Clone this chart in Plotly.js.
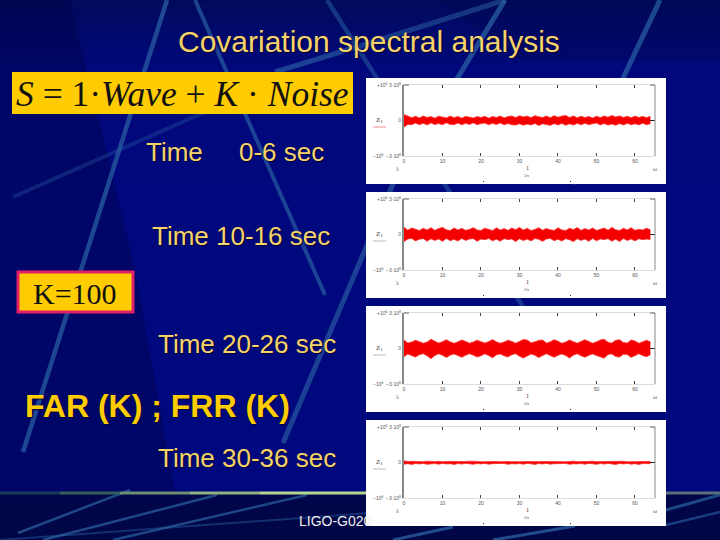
<!DOCTYPE html>
<html><head><meta charset="utf-8">
<script src="https://cdn.plot.ly/plotly-3.0.1.min.js"></script>
<style>
html,body{margin:0;padding:0;width:720px;height:540px;overflow:hidden;
background:
 linear-gradient(180deg,rgba(0,0,40,0) 0,rgba(0,0,40,0) 492px,rgba(0,5,55,.75) 494px,rgba(0,5,60,.75) 540px),
 linear-gradient(180deg,#000a5c 0,#00087c 70px,#00087e 500px,#000a60 540px);}
#c{width:720px;height:540px}
</style></head><body><div id="c"></div>
<script>
const timeSec=[0,1,2,3,4,5,6,7,8,9,10,11,12,13,14,15,16,17,18,19,20,21,22,23,24,25,26,27,28,29,30,31,32,33,34,35,36,37,38,39,40,41,42,43,44,45,46,47,48,49,50,51,52,53,54,55,56,57,58,59,60,61,62,63,64];
const xTicks=[0,10,20,30,40,50,60];
const yTicks=[-3,0,3];
const yTickText=["−3·10<sup>8</sup>","0","3·10<sup>8</sup>"];

const upper1=[.5,.34,.24,.36,.22,.38,.26,.33,.2,.36,.28,.22,.37,.24,.34,.2,.35,.27,.21,.33,.25,.36,.2,.34,.26,.37,.22,.33,.38,.25,.4,.3,.37,.24,.41,.32,.25,.38,.24,.4,.28,.37,.42,.26,.38,.23,.36,.25,.34,.21,.36,.25,.38,.28,.42,.3,.39,.26,.36,.23,.37,.25,.35,.24,.36];
const lower1=[-.55,-.33,-.36,-.22,-.35,-.24,-.37,-.21,-.34,-.26,-.36,-.2,-.33,-.35,-.22,-.36,-.24,-.33,-.2,-.35,-.26,-.22,-.36,-.24,-.34,-.21,-.36,-.26,-.35,-.39,-.27,-.4,-.3,-.38,-.25,-.42,-.28,-.37,-.41,-.26,-.38,-.25,-.4,-.28,-.39,-.24,-.36,-.23,-.35,-.27,-.22,-.37,-.25,-.39,-.3,-.41,-.26,-.38,-.24,-.36,-.27,-.37,-.23,-.35,-.28];

const upper2=[.62,.36,.55,.42,.34,.52,.38,.58,.35,.5,.6,.4,.33,.55,.39,.52,.36,.43,.58,.38,.34,.53,.4,.33,.56,.37,.5,.35,.55,.41,.6,.38,.52,.33,.43,.57,.36,.51,.4,.34,.56,.39,.33,.53,.41,.59,.35,.5,.38,.55,.34,.41,.54,.36,.6,.4,.34,.52,.39,.56,.35,.44,.38,.53,.4];
const lower2=[-.6,-.38,-.33,-.54,-.4,-.35,-.56,-.36,-.5,-.38,-.58,-.34,-.52,-.41,-.55,-.33,-.5,-.38,-.35,-.57,-.39,-.44,-.34,-.53,-.4,-.56,-.35,-.43,-.38,-.6,-.36,-.51,-.39,-.54,-.34,-.41,-.58,-.38,-.33,-.52,-.4,-.55,-.35,-.44,-.6,-.36,-.5,-.39,-.57,-.34,-.53,-.38,-.43,-.35,-.56,-.4,-.59,-.34,-.5,-.38,-.54,-.36,-.44,-.39,-.42];

const upper3=[.72,.46,.55,.7,.58,.44,.54,.78,.62,.46,.58,.74,.56,.44,.56,.72,.6,.45,.55,.7,.58,.47,.58,.76,.56,.44,.54,.7,.6,.45,.6,.76,.72,.48,.56,.68,.72,.46,.56,.74,.62,.44,.55,.72,.58,.45,.6,.74,.6,.44,.56,.72,.78,.52,.46,.7,.74,.5,.46,.72,.64,.44,.56,.7,.56];
const lower3=[-.7,-.46,-.6,-.72,-.52,-.44,-.62,-.86,-.6,-.45,-.58,-.76,-.56,-.46,-.6,-.74,-.58,-.44,-.56,-.72,-.62,-.45,-.6,-.78,-.54,-.46,-.62,-.72,-.52,-.44,-.66,-.8,-.64,-.46,-.58,-.76,-.6,-.44,-.6,-.74,-.58,-.46,-.6,-.8,-.56,-.44,-.62,-.74,-.58,-.46,-.6,-.74,-.82,-.5,-.46,-.68,-.72,-.48,-.5,-.76,-.6,-.44,-.6,-.7,-.52];

const upper4=[.14,.08,.1,.07,.09,.06,.11,.08,.07,.1,.06,.09,.08,.07,.1,.06,.08,.11,.07,.09,.06,.08,.1,.07,.09,.06,.1,.08,.07,.09,.11,.07,.08,.06,.1,.07,.09,.08,.06,.1,.07,.09,.06,.08,.11,.07,.09,.06,.08,.1,.07,.08,.06,.09,.11,.07,.08,.1,.06,.09,.07,.08,.1,.07,.09];
const lower4=[-.14,-.1,-.16,-.09,-.12,-.08,-.15,-.1,-.09,-.14,-.08,-.12,-.1,-.16,-.09,-.13,-.08,-.11,-.15,-.09,-.12,-.08,-.14,-.1,-.09,-.13,-.08,-.15,-.1,-.12,-.09,-.14,-.08,-.11,-.16,-.09,-.12,-.08,-.14,-.1,-.09,-.13,-.08,-.15,-.1,-.12,-.09,-.14,-.08,-.11,-.15,-.09,-.13,-.08,-.12,-.16,-.09,-.12,-.08,-.14,-.1,-.16,-.09,-.12,-.1];

const uppers=[upper1,upper2,upper3,upper4];
const lowers=[lower1,lower2,lower3,lower4];
const panelTop=[78,192,306,420];

const W=720,H=540;
const px=x=>x/W, py=y=>1-y/H;
const SANS='"Liberation Sans",Arial,sans-serif', SERIF='"Liberation Serif","Times New Roman",serif';
const GOLD='#f6d36a', SHADOW='1px 1px 1px #00003a';

const traces=[];const layout={width:W,height:H,margin:{l:0,r:0,t:0,b:0},autosize:false,showlegend:false,
  paper_bgcolor:'rgba(0,0,0,0)',plot_bgcolor:'rgba(0,0,0,0)',shapes:[],annotations:[]};

function seg(x0,y0,x1,y1,color,width,op){layout.shapes.push({type:'line',layer:'below',xref:'paper',yref:'paper',
  x0:px(x0),y0:py(y0),x1:px(x1),y1:py(y1),line:{color:color,width:width},opacity:op==null?1:op});}
function poly(pts,fill,op){layout.shapes.push({type:'path',layer:'below',xref:'paper',yref:'paper',
  path:'M'+pts.map(p=>px(p[0])+','+py(p[1])).join('L')+'Z',fillcolor:fill,opacity:op,line:{width:0}});}
function box(x0,y0,x1,y1,fill,lc,lw){layout.shapes.push({type:'rect',layer:'below',xref:'paper',yref:'paper',
  x0:px(x0),y0:py(y0),x1:px(x1),y1:py(y1),fillcolor:fill,line:{color:lc||fill,width:lw||0}});}
function note(text,x,y,size,color,family,anchor,extra){layout.annotations.push(Object.assign({text:text,xref:'paper',yref:'paper',
  x:px(x),y:py(y),xanchor:anchor||'left',yanchor:'middle',showarrow:false,borderpad:0,
  font:{size:size,color:color,family:family}},extra||{}));}
function slideText(text,x,y,size,color){note(text,x,y,size,color,SANS,'left',{font:{size:size,color:color,family:SANS,shadow:SHADOW}});}

/* slide backdrop */
poly([[0,0],[70,0],[135,270],[175,492],[0,492]],'#00043f',.34);
poly([[440,0],[720,0],[720,60],[520,60]],'#00043f',.18);
const B='#2c63a4';
seg(167,0,23,452,B,4.5,.7);
seg(195,0,325,295,B,4,.65);
seg(13,197,205,112,B,4,.32);
seg(275,72,360,46,B,5,.62);
seg(360,46,505,0,B,5,.5);
seg(327,0,525,310,B,4.5,.5);
seg(505,0,393,184,B,5,.72);
seg(393,184,283,443,B,5,.62);
seg(660,0,573,184,B,5,.7);
seg(18,533,130,490,B,2.5,.7);
seg(43,540,217,495,B,2.5,.7);
seg(113,540,307,495,B,2.5,.7);
seg(0,540,370,513,B,2,.45);
seg(393,540,453,527,B,3,.75);
seg(493,540,575,526,B,3,.75);
seg(666,510,720,495,B,3,.7);
seg(666,525,720,512,B,2.5,.6);
/* footer rule */
seg(0,493,60,493,'#143a5a',3);
seg(60,493,120,493,'#35605a',3);
seg(120,493,190,493,'#6c8f70',3);
seg(190,493,260,493,'#8fb280',3);
seg(260,493,366,493,'#b3d78f',3);
seg(666,493,720,493,'#59707a',3);

/* formula and K boxes */
box(12,72,353,114,'#ffcc00');
box(18,272,133,312,'#ffcc00','#e0206a',3);

/* panels */
panelTop.forEach((top,i)=>{
  const n=i===0?'':String(i+1);
  box(366,top,666,top+106,'#ffffff');
  const xa='xaxis'+n, ya='yaxis'+n, xr='x'+n, yr='y'+n;
  layout[xa]={domain:[px(404),px(655)],range:[0,65.2],anchor:yr,tickvals:xTicks,ticks:'inside',ticklen:3,tickwidth:1,tickcolor:'#444',
    showgrid:false,zeroline:false,showline:true,linecolor:'#dddddd',linewidth:1,mirror:'allticks',
    tickfont:{size:5,color:'#555',family:SANS},fixedrange:true};
  layout[ya]={domain:[py(top+78),py(top+7)],range:[-3,3],anchor:xr,tickvals:yTicks,ticktext:yTickText,ticks:'',showgrid:false,
    zeroline:true,zerolinecolor:'#222',zerolinewidth:1,showline:true,linecolor:'#888',linewidth:2,
    tickfont:{size:5,color:'#555',family:SANS},fixedrange:true};
  traces.push({x:timeSec,y:lowers[i],xaxis:xr,yaxis:yr,mode:'lines',line:{color:'#ff3030',width:.8},hoverinfo:'skip'});
  traces.push({x:timeSec,y:uppers[i],xaxis:xr,yaxis:yr,mode:'lines',line:{color:'#ff3030',width:.8},fill:'tonexty',fillcolor:'#f40000',hoverinfo:'skip'});
  layout.shapes.push({type:'line',xref:'paper',yref:'paper',x0:px(655),x1:px(655),y0:py(top+7),y1:py(top+78),line:{color:'#888',width:1}});
  layout.shapes.push({type:'line',xref:'paper',yref:'paper',x0:px(404),x1:px(409),y0:py(top+7),y1:py(top+7),line:{color:'#666',width:1}});
  layout.shapes.push({type:'line',xref:'paper',yref:'paper',x0:px(650),x1:px(655),y0:py(top+7),y1:py(top+7),line:{color:'#666',width:1}});
  note('+10<sup>6</sup>',376,top+7,5,'#555',SANS);
  note('−10<sup>6</sup>',372,top+78,5,'#555',SANS);
  note('Z<sub>1</sub>',375,top+42,7,'#333',SERIF);
  layout.shapes.push({type:'line',xref:'paper',yref:'paper',x0:px(373),x1:px(386),y0:py(top+49),y1:py(top+49),
    line:{color:i===0?'#f09090':'#bbbbbb',width:1}});
  note('λ',397,top+91,6,'#555',SERIF,'center');
  note('ω',655,top+91,6,'#555',SERIF,'center');
  note('1',527,top+90,6,'#333',SERIF,'center');
  note('2π',527,top+97,5,'#555',SERIF,'center');
  layout.shapes.push({type:'rect',xref:'paper',yref:'paper',x0:px(483),x1:px(484),y0:py(top+104),y1:py(top+103),fillcolor:'#333',line:{width:0}});
  layout.shapes.push({type:'rect',xref:'paper',yref:'paper',x0:px(570),x1:px(571),y0:py(top+104),y1:py(top+103),fillcolor:'#333',line:{width:0}});
});

/* slide text */
note('Covariation spectral analysis',369,41,30,GOLD,SANS,'center',{font:{size:30,color:GOLD,family:SANS,shadow:SHADOW}});
note('<i>S</i> = 1·<i>Wave</i> + <i>K</i> · <i>Noise</i>',182,94,35.5,'#111',SERIF,'center');
slideText('Time',145,152,26,GOLD);
slideText('0-6 sec',238,152,26,GOLD);
slideText('Time 10-16 sec',151,236,26,GOLD);
note('K=100',75,293,30,'#111',SERIF,'center');
slideText('Time 20-26 sec',157,344,26,GOLD);
slideText('<b>FAR (K) ; FRR (K)</b>',24,406,32,'#ffcc00');
slideText('Time 30-36 sec',157,458,26,GOLD);
note('LIGO-G020',298,521,14,'#f0f0f0',SANS);

Plotly.newPlot('c',traces,layout,{displayModeBar:false,responsive:false});
</script></body></html>
